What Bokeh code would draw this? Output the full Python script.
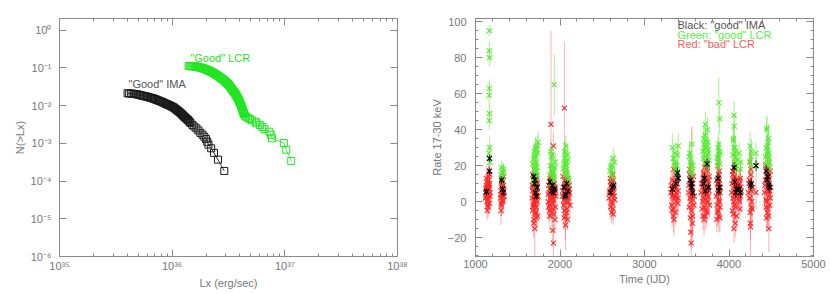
from bokeh.plotting import figure
from bokeh.layouts import row
from bokeh.models import (Range1d, LogAxis, LinearAxis, FixedTicker,
                          CustomJSTickFormatter, Label, ColumnDataSource)
from bokeh.embed import file_html
from bokeh.resources import INLINE

# ---------------- left panel: cumulative distributions ----------------
lx_ima = [4.02e35, 4.15e35, 4.3e35, 4.45e35, 4.6e35, 4.75e35, 4.9e35, 5.05e35, 5.2e35, 5.35e35,
          5.5e35, 5.65e35, 5.8e35, 5.95e35, 6.1e35, 6.3e35, 6.5e35, 6.65e35, 6.8e35, 6.95e35,
          7.1e35, 7.25e35, 7.4e35, 7.6e35, 7.8e35, 8.0e35, 8.2e35, 8.4e35, 8.6e35, 8.8e35,
          9.0e35, 9.2e35, 9.4e35, 9.6e35, 9.8e35, 1.0e36, 1.02e36, 1.04e36, 1.06e36, 1.08e36,
          1.10e36, 1.12e36, 1.14e36, 1.16e36, 1.18e36, 1.20e36, 1.22e36, 1.24e36, 1.26e36, 1.28e36,
          1.30e36, 1.33e36, 1.35e36, 1.38e36, 1.40e36, 1.43e36, 1.45e36, 1.51e36, 1.57e36, 1.64e36,
          1.71e36, 1.78e36, 1.86e36, 1.93e36, 2.0e36, 2.05e36, 2.1e36, 2.22e36, 2.35e36, 2.55e36,
          2.9e36]
n_ima = [0.0213, 0.0212, 0.0210, 0.0208, 0.0205, 0.0202, 0.0199, 0.0195, 0.0190, 0.0187,
         0.0183, 0.0180, 0.0176, 0.0173, 0.0169, 0.0165, 0.0161, 0.0158, 0.0155, 0.0151,
         0.0147, 0.0144, 0.0140, 0.0136, 0.0132, 0.0128, 0.0124, 0.0120, 0.0116, 0.0112,
         0.0109, 0.0106, 0.0103, 0.0100, 0.0097, 0.0094, 0.0091, 0.0088, 0.0084, 0.0080,
         0.0077, 0.0074, 0.0071, 0.0068, 0.0065, 0.0062, 0.0059, 0.0056, 0.0054, 0.0051,
         0.0049, 0.0046, 0.0044, 0.0042, 0.0040, 0.0037, 0.0035, 0.0031, 0.0028, 0.0025,
         0.0022, 0.0019, 0.0017, 0.0015, 0.0013, 0.0011, 9.3e-4, 7.4e-4, 5.6e-4, 3.7e-4,
         1.86e-4]

lx_lcr = [1.40e36, 1.43e36, 1.46e36, 1.49e36, 1.52e36, 1.55e36, 1.58e36, 1.61e36, 1.64e36, 1.67e36,
          1.70e36, 1.73e36, 1.76e36, 1.80e36, 1.83e36, 1.87e36, 1.90e36, 1.94e36, 1.97e36, 2.00e36,
          2.04e36, 2.08e36, 2.11e36, 2.15e36, 2.18e36, 2.22e36, 2.26e36, 2.30e36, 2.34e36, 2.38e36,
          2.42e36, 2.46e36, 2.50e36, 2.54e36, 2.58e36, 2.62e36, 2.66e36, 2.70e36, 2.74e36, 2.78e36,
          2.82e36, 2.86e36, 2.90e36, 2.94e36, 2.98e36, 3.02e36, 3.06e36, 3.10e36, 3.14e36, 3.18e36,
          3.22e36, 3.26e36, 3.30e36, 3.34e36, 3.38e36, 3.42e36, 3.46e36, 3.50e36, 3.54e36, 3.58e36,
          3.62e36, 3.66e36, 3.70e36, 3.74e36, 3.78e36, 3.82e36, 3.86e36, 3.90e36, 3.94e36, 3.98e36,
          4.02e36, 4.06e36, 4.10e36, 4.13e36, 4.16e36, 4.19e36, 4.22e36, 4.25e36, 4.28e36, 4.31e36,
          4.34e36, 4.42e36, 4.5e36, 4.7e36, 4.9e36, 5.1e36, 5.5e36, 5.6e36, 6.0e36, 6.3e36,
          6.6e36, 7.3e36, 7.5e36, 7.7e36, 9.8e36, 1.03e37, 1.14e37]
n_lcr = [0.113, 0.1127, 0.112, 0.1115, 0.111, 0.1105, 0.110, 0.1095, 0.109, 0.1075,
         0.106, 0.1045, 0.103, 0.1015, 0.100, 0.0985, 0.097, 0.095, 0.093, 0.091,
         0.089, 0.087, 0.085, 0.083, 0.081, 0.079, 0.077, 0.075, 0.073, 0.0705,
         0.068, 0.066, 0.064, 0.062, 0.060, 0.058, 0.056, 0.0545, 0.053, 0.0515,
         0.050, 0.048, 0.046, 0.0445, 0.043, 0.0415, 0.040, 0.0385, 0.037, 0.0355,
         0.034, 0.0325, 0.031, 0.0295, 0.028, 0.0265, 0.025, 0.024, 0.023, 0.022,
         0.021, 0.020, 0.019, 0.018, 0.017, 0.016, 0.015, 0.014, 0.013, 0.0122,
         0.0115, 0.0107, 0.0100, 0.0094, 0.0088, 0.0082, 0.0077, 0.0072, 0.0068, 0.0064,
         0.0060, 0.00544, 0.0051, 0.00476, 0.00442, 0.00408, 0.00374, 0.0034, 0.00306, 0.00272,
         0.00238, 0.00204, 0.0017, 0.00136, 0.00102, 6.8e-4, 3.4e-4]

x_decades = [1e35, 1e36, 1e37, 1e38]
y_decades = [1e-6, 1e-5, 1e-4, 1e-3, 1e-2, 1e-1, 1e0]

# ---------------- right panel: light curves ----------------
red_t = [1120, 1125, 1130, 1135, 1140, 1145, 1150, 1155, 1160, 1165, 1170, 1118, 1128, 1138, 1148, 1158, 1168, 1175,
         1122, 1132, 1142, 1152, 1162, 1172, 1127, 1137, 1147, 1157, 1167,
         1295, 1300, 1305, 1310, 1315, 1320, 1325, 1330, 1335, 1340, 1302, 1318, 1328, 1312,
         1298, 1308, 1322, 1333, 1338, 1306, 1316, 1326,
         1670, 1675, 1680, 1685, 1690, 1695, 1700, 1705, 1710, 1715, 1720, 1725, 1730, 1735, 1740, 1672, 1688, 1698, 1708, 1718, 1728, 1682, 1702,
         1674, 1684, 1694, 1704, 1714, 1724, 1734, 1678, 1692, 1712, 1732, 1722,
         1860, 1870, 1880, 1890, 1900, 1910, 1920, 1930, 1940, 1950, 1865, 1875, 1885, 1895, 1905, 1915, 1925, 1935, 1945, 1893, 1922, 1914, 1922,
         1862, 1872, 1882, 1892, 1902, 1912, 1932, 1942, 1868, 1888, 1908, 1928, 1948,
         2030, 2040, 2050, 2060, 2070, 2080, 2090, 2100, 2110, 2120, 2035, 2045, 2055, 2065, 2075, 2085, 2095, 2105, 2052, 2064,
         2032, 2042, 2058, 2068, 2078, 2088, 2098, 2108, 2048, 2072, 2092, 2115,
         2580, 2590, 2600, 2610, 2620, 2630, 2640, 2650, 2595, 2615, 2635, 2605, 2625,
         2585, 2598, 2608, 2618, 2628, 2642, 2612, 2632,
         3310, 3320, 3330, 3340, 3350, 3360, 3370, 3380, 3390, 3400, 3325, 3345, 3365, 3385, 3335, 3395,
         3315, 3328, 3338, 3348, 3358, 3368, 3378, 3388, 3398, 3342, 3372,
         3520, 3530, 3540, 3550, 3560, 3570, 3580, 3590, 3535, 3555, 3545, 3565, 3548, 3552, 3575,
         3525, 3538, 3542, 3558, 3562, 3572, 3585, 3532, 3568,
         3670, 3680, 3690, 3700, 3710, 3720, 3730, 3740, 3750, 3760, 3770, 3685, 3705, 3725, 3745, 3765, 3695, 3735,
         3675, 3688, 3698, 3708, 3718, 3728, 3738, 3748, 3758, 3768, 3692, 3712, 3732, 3752,
         3850, 3860, 3870, 3880, 3890, 3900, 3855, 3865, 3875, 3885, 3895, 3870, 3880,
         3852, 3858, 3868, 3878, 3888, 3898, 3862, 3882, 3892,
         4030, 4040, 4050, 4060, 4070, 4080, 4090, 4100, 4045, 4065, 4085, 4055, 4075, 4058,
         4035, 4048, 4052, 4062, 4068, 4078, 4088, 4095, 4042, 4072,
         4110, 4120, 4130, 4140, 4125, 4135, 4105, 4115, 4128, 4138, 4145,
         4230, 4240, 4250, 4260, 4270, 4280, 4245, 4265, 4255, 4252, 4235, 4242, 4258, 4268, 4275,
         4320,
         4420, 4430, 4440, 4450, 4460, 4470, 4480, 4490, 4435, 4455, 4475, 4445, 4465, 4485, 4472,
         4425, 4438, 4448, 4458, 4468, 4478, 4488, 4495, 4442, 4462, 4482]
red_y = [5, 3, 8, 0, 6, 10, -3, 12, 4, 7, 15, 2, 9, -5, 6, 14, -1, 5,
         7, 4, 11, 1, 9, 3, 13, 6, -2, 8, 10,
         2, 6, -2, 9, 4, 12, 0, 7, 14, 3, -5, 10, 5, 8,
         4, 11, 1, 9, 6, -1, 13, 3,
         2, -5, 8, 12, -10, 4, -15, 0, 6, 10, -3, 14, 5, -8, 3, 9, -12, 7, 1, -6, 11, -2, 13,
         6, -3, 9, 3, -7, 7, 0, 15, -1, 4, 10, -9,
         0, 5, -8, 8, 2, 11, -4, 6, -10, 3, 9, -2, 12, 4, -6, 7, 1, 10, -3, 43, 31, -16, -23,
         4, -5, 7, 1, 9, -1, 5, 8, -3, 13, 3, -7, 6,
         3, 8, -5, 12, 0, 6, -10, 4, 9, -2, 14, 1, 7, -13, 10, -4, 5, 2, 52, -8,
         6, -2, 9, 4, -6, 11, 0, 7, -9, 3, 13, 5,
         2, 6, -3, 10, 4, -7, 8, 1, 13, -1, 5, 9, 15,
         5, 11, 0, 7, -4, 3, -6, 12,
         5, -2, 12, 8, -10, 3, 15, 0, 10, 6, -5, 18, 2, 13, 7, -1,
         9, 3, -4, 6, 11, -6, 5, 16, 2, -8, 8,
         5, -3, 10, 0, 8, -8, 14, 3, 18, -5, 12, 6, -17, -23, 1,
         9, 2, -9, 13, 4, 10, -2, 15, -12,
         5, -4, 10, 2, 15, -8, 7, 20, 0, 12, -2, 8, -10, 4, 17, 6, 13, -5,
         10, 0, 16, -3, 5, 12, -6, 9, 3, 14, -8, 19, 1, 7,
         3, 10, -5, 15, 0, 8, -10, 20, 5, 12, -3, 22, -8,
         12, -2, 7, 1, 17, 5, -6, 10, -9,
         5, -5, 12, 0, 18, 8, -8, 3, 15, -2, 10, 6, -12, -15,
         10, 2, -7, 14, 4, -3, 12, 7, 17, 9,
         4, 10, -4, 8, 0, 13, 9, 1, 12, 3, 6,
         5, 12, -6, 18, 0, 8, 22, -3, -14, -12, 10, 2, 15, 6, -4,
         5,
         5, 12, -3, 18, 8, -8, 15, 2, 20, -6, 10, 0, 14, 6, -15,
         9, 1, 14, -4, 11, 4, 17, 8, -9, 6, -2]
red_e = [6, 5, 7, 5, 6, 7, 6, 8, 5, 6, 7, 5, 6, 5, 6, 7, 6, 5,
         6, 5, 7, 6, 5, 6, 7, 6, 5, 6, 7,
         6, 5, 6, 6, 5, 6, 7, 5, 6, 5, 8, 6, 5, 6,
         6, 5, 6, 5, 6, 7, 5, 6,
         7, 6, 8, 7, 6, 7, 18, 6, 7, 8, 6, 7, 6, 7, 6, 7, 8, 6, 7, 6, 7, 6, 8,
         7, 6, 7, 6, 7, 6, 7, 8, 6, 7, 6, 7,
         7, 6, 8, 7, 6, 7, 6, 8, 7, 6, 7, 6, 7, 6, 8, 7, 6, 7, 6, 52, 8, 9, 10,
         7, 6, 7, 6, 7, 6, 7, 6, 7, 8, 6, 7, 6,
         7, 6, 7, 6, 8, 7, 6, 7, 6, 7, 6, 7, 6, 8, 7, 6, 7, 6, 37, 19,
         7, 6, 7, 6, 7, 6, 7, 6, 7, 6, 7, 6,
         6, 5, 7, 6, 5, 6, 7, 6, 5, 6, 7, 5, 6,
         6, 5, 6, 5, 6, 5, 6, 5,
         8, 7, 9, 8, 9, 7, 8, 7, 8, 7, 9, 8, 7, 8, 7, 8,
         8, 7, 8, 7, 8, 7, 8, 7, 8, 9, 7,
         8, 7, 8, 9, 34, 7, 8, 7, 8, 9, 8, 7, 8, 8, 7,
         8, 7, 8, 7, 8, 7, 8, 7, 8,
         8, 7, 8, 7, 9, 8, 7, 8, 7, 8, 7, 8, 9, 7, 8, 7, 8, 7,
         8, 7, 8, 7, 8, 7, 8, 7, 8, 7, 8, 7, 8, 7,
         8, 7, 8, 7, 9, 8, 7, 8, 7, 8, 7, 8, 9,
         8, 7, 8, 7, 8, 7, 8, 7, 8,
         8, 7, 8, 9, 8, 7, 8, 7, 8, 9, 7, 8, 8, 8,
         8, 7, 8, 7, 8, 7, 8, 7, 8, 7,
         7, 8, 7, 8, 7, 8, 7, 8, 7, 8, 7,
         8, 9, 8, 9, 8, 9, 8, 9, 17, 9, 8, 9, 8, 9, 8,
         9,
         8, 7, 8, 9, 8, 7, 8, 7, 8, 9, 7, 8, 7, 8, 13,
         8, 7, 8, 9, 8, 7, 8, 7, 8, 7, 8]

green_t = [1165, 1163, 1167, 1165, 1162, 1166, 1164, 1168, 1160, 1170,
           1305, 1315, 1325, 1335, 1320, 1300, 1330,
           1680, 1690, 1700, 1710, 1720, 1730, 1740, 1695, 1705, 1715, 1685, 1725, 1735,
           1675, 1698, 1712, 1728, 1738, 1692, 1718,
           1880, 1895, 1905, 1915, 1925, 1935, 1945, 1890, 1920, 1932, 1900,
           1885, 1910, 1928, 1940, 1898,
           2040, 2050, 2060, 2070, 2080, 2090, 2100, 2055, 2075, 2065, 2110,
           2045, 2062, 2085, 2095, 2058,
           2590, 2610, 2630, 2645, 2620, 2600, 2625,
           3330, 3350, 3370, 3390, 3400, 3360, 3380, 3340, 3365, 3385, 3395,
           3530, 3545, 3560, 3575, 3550, 3540, 3535, 3555, 3568,
           3690, 3700, 3710, 3720, 3730, 3740, 3750, 3760, 3715, 3735, 3705, 3745,
           3695, 3712, 3725, 3742, 3755, 3765,
           3860, 3870, 3880, 3890, 3875, 3885, 3865, 3895, 3868, 3878, 3882, 3892,
           4050, 4060, 4063, 4070, 4080, 4090, 4055, 4075, 4045, 4058, 4068, 4085, 4095,
           4120, 4135, 4140,
           4250, 4260, 4270, 4245, 4265,
           4320, 4325,
           4430, 4440, 4450, 4460, 4470, 4480, 4445, 4465, 4475, 4435, 4452, 4458, 4472, 4485]
green_y = [95, 84, 80, 63, 59, 49, 45, 30, 27, 22,
           19, 16, 14, 17, 12, 15, 18,
           12, 18, 25, 30, 22, 15, 33, 28, 20, 14, 24, 17, 31,
           21, 16, 26, 19, 27, 11, 29,
           15, 25, 20, 12, 18, 14, 22, 28, 16, 65, 10,
           20, 26, 13, 19, 16,
           18, 24, 15, 31, 20, 26, 13, 28, 22, 17, 12,
           21, 27, 16, 23, 19,
           17, 20, 24, 22, 14, 19, 16,
           30, 22, 18, 26, 31, 20, 16, 24, 27, 20, 17,
           25, 18, 32, 20, 15, 22, 27, 21, 17,
           28, 35, 25, 43, 30, 22, 33, 27, 37, 20, 32, 40,
           24, 30, 34, 26, 29, 23,
           25, 30, 55, 46, 22, 28, 20, 27, 24, 32, 26, 21,
           34, 48, 42, 30, 25, 20, 35, 28, 26, 30, 22, 18, 23,
           27, 18, 22,
           31, 25, 20, 22, 28,
           27, 20,
           25, 30, 41, 28, 35, 22, 40, 33, 27, 21, 26, 31, 24, 19]
green_e = [3, 5, 5, 5, 6, 5, 5, 6, 5, 5,
           4, 5, 4, 4, 5, 4, 4,
           6, 5, 7, 6, 5, 6, 6, 5, 6, 5, 6, 5, 6,
           6, 5, 6, 5, 6, 5, 6,
           5, 6, 5, 6, 5, 6, 5, 6, 5, 17, 5,
           5, 6, 5, 6, 5,
           5, 6, 5, 6, 5, 6, 5, 6, 5, 6, 5,
           5, 6, 5, 6, 5,
           5, 6, 6, 5, 5, 5, 5,
           8, 6, 5, 6, 7, 5, 6, 6, 6, 5, 6,
           7, 6, 8, 6, 5, 6, 6, 5, 6,
           6, 7, 6, 7, 6, 5, 6, 6, 7, 5, 6, 7,
           6, 6, 7, 6, 6, 6,
           6, 6, 14, 8, 6, 6, 5, 6, 6, 7, 6, 5,
           7, 8, 7, 6, 6, 5, 7, 6, 6, 7, 6, 5, 6,
           6, 5, 5,
           8, 6, 6, 6, 7,
           6, 6,
           6, 6, 7, 6, 8, 5, 7, 6, 6, 6, 6, 7, 6, 5]

black_t = [1165, 1165, 1130,
           1310, 1320, 1330,
           1690, 1700, 1710, 1720, 1730, 1705,
           1880, 1900, 1920, 1940, 1910,
           2050, 2065, 2080, 2095, 2060,
           2600, 2620, 2635,
           3330, 3370, 3390, 3400,
           3540, 3555, 3570, 3560,
           3700, 3720, 3740, 3755, 3710,
           3870, 3885, 3880,
           4060, 4070, 4090, 4080,
           4120, 4135,
           4255, 4265,
           4320,
           4440, 4450, 4460, 4470, 4480]
black_y = [24, 17, 5.5,
           12, 7, 5,
           14, 10, 5, 3, 8, 12,
           11, 6, 5, 7, 9,
           8, 4, 10, 6, 3,
           5, 8, 9,
           7, 10, 16, 13,
           12, 8, 5, 10,
           10, 6, 21, 8, 13,
           13, 8, 6,
           19, 11, 7, 5,
           7, 5,
           9, 10,
           20,
           17, 12, 14, 9, 8]
black_e = [2, 2, 2,
           2, 2, 2,
           2, 2, 2, 2, 2, 2,
           2, 2, 2, 2, 2,
           2, 2, 2, 2, 2,
           2, 2, 2,
           3, 3, 3, 3,
           3, 3, 3, 3,
           3, 3, 3, 3, 3,
           3, 3, 3,
           3, 3, 3, 3,
           3, 3,
           3, 3,
           3,
           3, 3, 3, 3, 3]

time_ticks = [1000, 2000, 3000, 4000, 5000]
rate_ticks = [-20, 0, 20, 40, 60, 80, 100]

# ---------------- styling ----------------
AX = "#8a8a8a"
TXT = "#777777"
FONT = "Liberation Sans"
GREEN_L = "#22e622"
GREEN = "#55ee33"
RED = "#ff2828"

sup_code = """
const s = {'0':'\u2070','1':'\u00b9','2':'\u00b2','3':'\u00b3','4':'\u2074','5':'\u2075',
           '6':'\u2076','7':'\u2077','8':'\u2078','9':'\u2079','-':'\u207b'};
const e = Math.round(Math.log10(tick));
return '10' + String(e).split('').map(c => s[c]).join('');
"""


def style_axis(ax, show_labels=True, standoff=4):
    ax.axis_line_color = AX
    ax.major_tick_line_color = AX
    ax.minor_tick_line_color = AX
    ax.major_tick_in = 7
    ax.major_tick_out = 0
    ax.minor_tick_in = 3
    ax.minor_tick_out = 0
    ax.major_label_text_color = TXT
    ax.major_label_text_font = FONT
    ax.major_label_text_font_size = "11px"
    ax.major_label_standoff = standoff
    if not show_labels:
        ax.major_label_text_font_size = "1px"
        ax.major_label_text_alpha = 0
        ax.major_label_standoff = 0
    ax.axis_label_text_font = FONT
    ax.axis_label_text_font_size = "11px"
    ax.axis_label_text_font_style = "normal"
    ax.axis_label_text_color = TXT
    ax.axis_label_standoff = 2


def base(p):
    p.xgrid.visible = False
    p.ygrid.visible = False
    p.outline_line_color = AX
    p.background_fill_color = "white"
    p.border_fill_color = "white"


# ---- left figure ----
x_minor = [m * d for d in x_decades[:-1] for m in range(2, 10)]
p1 = figure(width=415, height=294, x_axis_type="log", y_axis_type="log",
            x_range=Range1d(1e35, 1e38), y_range=Range1d(1e-6, 2.05),
            output_backend="svg", toolbar_location=None,
            min_border_left=59, min_border_right=18, min_border_top=18, min_border_bottom=38)
base(p1)
fmt = CustomJSTickFormatter(code=sup_code)
p1.xaxis.ticker = FixedTicker(ticks=x_decades, minor_ticks=x_minor)
p1.yaxis.ticker = FixedTicker(ticks=y_decades, minor_ticks=[])
p1.xaxis.formatter = fmt
p1.yaxis.formatter = fmt
p1.xaxis.axis_label = "Lx (erg/sec)"
p1.yaxis.axis_label = "N(>Lx)"
style_axis(p1.xaxis[0], standoff=3)
style_axis(p1.yaxis[0], standoff=8)
top1 = LogAxis(ticker=FixedTicker(ticks=x_decades, minor_ticks=x_minor))
style_axis(top1, False)
p1.add_layout(top1, "above")
right1 = LogAxis(ticker=FixedTicker(ticks=y_decades, minor_ticks=[]))
style_axis(right1, False)
p1.add_layout(right1, "right")

p1.line(lx_ima, n_ima, line_color="black", line_width=0.8)
p1.scatter(lx_ima, n_ima, marker="square", size=7, fill_color=None,
           line_color="#1a1a1a", line_width=1)
p1.line(lx_lcr, n_lcr, line_color=GREEN_L, line_width=0.8)
p1.scatter(lx_lcr, n_lcr, marker="square", size=7, fill_color=None,
           line_color=GREEN_L, line_width=1)
p1.add_layout(Label(x=4.1e35, y=0.026, text='"Good" IMA', text_color="#555555",
                    text_font=FONT, text_font_size="11px"))
p1.add_layout(Label(x=1.45e36, y=0.128, text='"Good" LCR', text_color=GREEN_L,
                    text_font=FONT, text_font_size="11px"))

# ---- right figure ----
p2 = figure(width=415, height=294, x_range=Range1d(1000, 5000), y_range=Range1d(-30.5, 101.8),
            output_backend="svg", toolbar_location=None,
            min_border_left=60, min_border_right=17, min_border_top=18, min_border_bottom=38)
base(p2)
t_minor = list(range(1000, 5001, 200))
r_minor = list(range(-30, 101, 5))
p2.xaxis.ticker = FixedTicker(ticks=time_ticks, minor_ticks=t_minor)
p2.yaxis.ticker = FixedTicker(ticks=rate_ticks, minor_ticks=r_minor)
p2.xaxis.axis_label = "Time (IJD)"
p2.yaxis.axis_label = "Rate 17-30 keV"
style_axis(p2.xaxis[0], standoff=3)
style_axis(p2.yaxis[0], standoff=9)
top2 = LinearAxis(ticker=FixedTicker(ticks=time_ticks, minor_ticks=t_minor))
style_axis(top2, False)
p2.add_layout(top2, "above")
right2 = LinearAxis(ticker=FixedTicker(ticks=rate_ticks, minor_ticks=r_minor))
style_axis(right2, False)
p2.add_layout(right2, "right")


def bars(t, y, e):
    return ColumnDataSource(dict(t=t, y=y,
                                 lo=[a - b for a, b in zip(y, e)],
                                 hi=[a + b for a, b in zip(y, e)]))


rs = bars(red_t, red_y, red_e)
gs = bars(green_t, green_y, green_e)
bs = bars(black_t, black_y, black_e)

p2.segment(x0="t", y0="lo", x1="t", y1="hi", source=rs, line_color="#ff0000",
           line_alpha=0.3, line_width=1)
p2.scatter("t", "y", source=rs, marker="x", size=7, line_color=RED, line_width=1.1)
p2.segment(x0="t", y0="lo", x1="t", y1="hi", source=gs, line_color="#44dd11",
           line_alpha=0.45, line_width=1)
p2.scatter("t", "y", source=gs, marker="x", size=7, line_color=GREEN, line_width=1.1)
p2.segment(x0="t", y0="lo", x1="t", y1="hi", source=bs, line_color="black",
           line_alpha=0.7, line_width=1)
p2.scatter("t", "y", source=bs, marker="x", size=7, line_color="black", line_width=1.2)

for txt, yy, col in [('Black: "good" IMA', 94.8, "#555555"),
                     ('Green: "good" LCR', 89.5, "#55ee44"),
                     ('Red: "bad" LCR', 84.2, "#ff5a5a")]:
    p2.add_layout(Label(x=3390, y=yy, text=txt, text_color=col,
                        text_font=FONT, text_font_size="11px"))

layout = row(p1, p2)
open("out.html", "w").write(file_html(layout, INLINE))
